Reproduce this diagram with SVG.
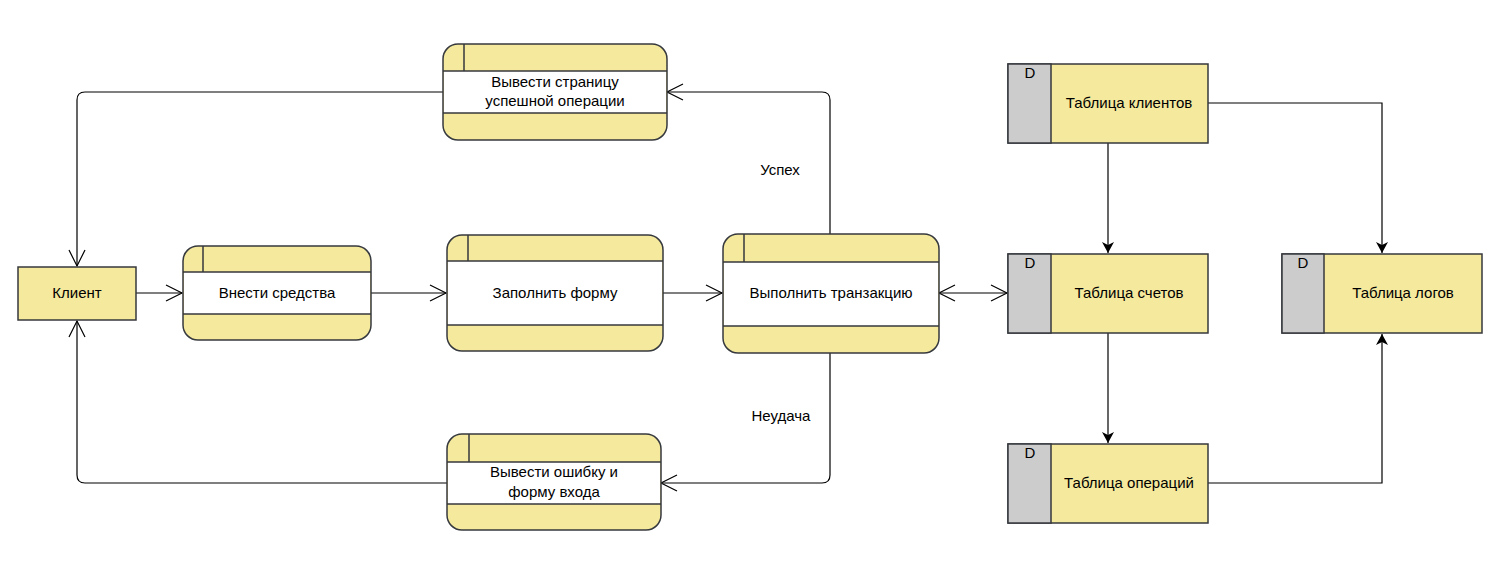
<svg xmlns="http://www.w3.org/2000/svg" width="1498" height="588" viewBox="0 0 1498 588">
<style>
.y{fill:#f4e99d;stroke:#36393d;stroke-width:1.5}
.w{fill:#ffffff;stroke:none}
.ln{stroke:#36393d;stroke-width:1.5;fill:none}
.g{fill:#cccccc;stroke:#36393d;stroke-width:1.5}
.t{font-family:"Liberation Sans",Arial,sans-serif;font-size:15px;fill:#000;text-anchor:middle}
.e{fill:none;stroke:#000;stroke-width:1.2}
</style>
<defs>
<marker id="open" markerUnits="userSpaceOnUse" markerWidth="20" markerHeight="20" viewBox="0 0 20 20" refX="18" refY="10" orient="auto-start-reverse">
<path d="M2,2 L18,10 L2,18" fill="none" stroke="#000" stroke-width="1.2"/>
</marker>
<marker id="block" markerUnits="userSpaceOnUse" markerWidth="12" markerHeight="12" viewBox="0 0 12 12" refX="11" refY="6" orient="auto">
<path d="M0,0 L11,6 L0,12 L3,6 z" fill="#000"/>
</marker>
</defs>

<g id="connectors">
<path class="e" d="M136,293 H182" marker-end="url(#open)"/>
<path class="e" d="M371,293 H446" marker-end="url(#open)"/>
<path class="e" d="M663,293 H722" marker-end="url(#open)"/>
<path class="e" d="M939,293 H1007" marker-start="url(#open)" marker-end="url(#open)"/>
<path class="e" d="M830,234 V100 Q830,92 822,92 H667" marker-end="url(#open)"/>
<path class="e" d="M830,353 V475 Q830,483 822,483 H661" marker-end="url(#open)"/>
<path class="e" d="M443,92 H85 Q77,92 77,100 V266" marker-end="url(#open)"/>
<path class="e" d="M447,483 H85 Q77,483 77,475 V321" marker-end="url(#open)"/>
<path class="e" d="M1108,143 V253" marker-end="url(#block)"/>
<path class="e" d="M1208,103 H1382 V253" marker-end="url(#block)"/>
<path class="e" d="M1108,333 V443" marker-end="url(#block)"/>
<path class="e" d="M1208,483 H1382 V334" marker-end="url(#block)"/>
<text class="t" x="780" y="175">Успех</text>
<text class="t" x="781" y="421">Неудача</text>
</g>

<g id="client">
<rect class="y" x="18" y="267" width="118" height="53"/>
<text class="t" x="77" y="298">Клиент</text>
</g>

<g id="deposit">
<rect class="y" x="183" y="246" width="188" height="94" rx="15"/>
<rect class="w" x="184" y="272" width="186" height="42"/>
<path class="ln" d="M183,272 H371 M183,314 H371 M203,246 V272"/>
<text class="t" x="277" y="298">Внести средства</text>
</g>

<g id="fillform">
<rect class="y" x="447" y="235" width="216" height="116" rx="15"/>
<rect class="w" x="448" y="261" width="214" height="64"/>
<path class="ln" d="M447,261 H663 M447,325 H663 M468,235 V261"/>
<text class="t" x="555" y="298">Заполнить форму</text>
</g>

<g id="transaction">
<rect class="y" x="723" y="234" width="216" height="119" rx="15"/>
<rect class="w" x="724" y="262" width="214" height="64"/>
<path class="ln" d="M723,262 H939 M723,326 H939 M744,234 V262"/>
<text class="t" x="831" y="298">Выполнить транзакцию</text>
</g>

<g id="success">
<rect class="y" x="443" y="44" width="224" height="96" rx="15"/>
<rect class="w" x="444" y="71" width="222" height="42"/>
<path class="ln" d="M443,71 H667 M443,113 H667 M464,44 V71"/>
<text class="t" x="555" y="87">Вывести страницу</text>
<text class="t" x="555" y="106">успешной операции</text>
</g>

<g id="error">
<rect class="y" x="447" y="434" width="214" height="96" rx="15"/>
<rect class="w" x="448" y="462" width="212" height="42"/>
<path class="ln" d="M447,462 H661 M447,504 H661 M469,434 V462"/>
<text class="t" x="554" y="477">Вывести ошибку и</text>
<text class="t" x="554" y="497">форму входа</text>
</g>

<g id="clients-table">
<rect class="y" x="1008" y="64" width="200" height="79"/>
<rect class="g" x="1008" y="64" width="43" height="79"/>
<text class="t" x="1030" y="78">D</text>
<text class="t" x="1129" y="108">Таблица клиентов</text>
</g>

<g id="accounts-table">
<rect class="y" x="1008" y="254" width="200" height="79"/>
<rect class="g" x="1008" y="254" width="43" height="79"/>
<text class="t" x="1030" y="268">D</text>
<text class="t" x="1129" y="298">Таблица счетов</text>
</g>

<g id="logs-table">
<rect class="y" x="1282" y="254" width="200" height="79"/>
<rect class="g" x="1282" y="254" width="42" height="79"/>
<text class="t" x="1303" y="268">D</text>
<text class="t" x="1403" y="298">Таблица логов</text>
</g>

<g id="operations-table">
<rect class="y" x="1008" y="444" width="200" height="79"/>
<rect class="g" x="1008" y="444" width="43" height="79"/>
<text class="t" x="1030" y="458">D</text>
<text class="t" x="1129" y="488">Таблица операций</text>
</g>
</svg>
